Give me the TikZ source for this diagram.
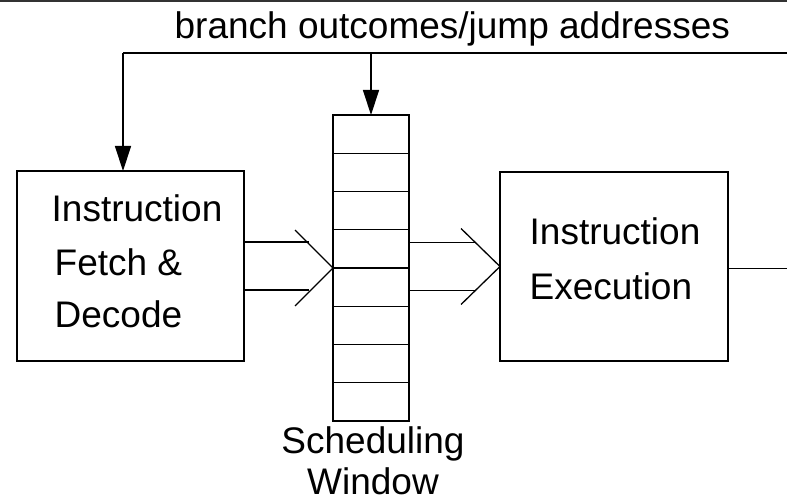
\documentclass[tikz,border=0pt]{standalone}
\usepackage{fontspec}
\setmainfont{Liberation Sans}
\usetikzlibrary{arrows.meta,calc}
\begin{document}
\begin{tikzpicture}[x=1pt,y=-1pt,line width=1.3pt,
  box/.style={draw,rectangle,inner sep=0pt,outer sep=0pt,anchor=north west},
  lbl/.style={inner sep=0pt,anchor=base west,font=\fontsize{37}{44}\selectfont},
  clbl/.style={inner sep=0pt,anchor=base,font=\fontsize{37}{44}\selectfont},
  head/.style={-{Triangle[length=25pt,width=16pt]}},
  chev/.style={line join=miter}]
\useasboundingbox (0,0) rectangle (787,497);

% rule along the top edge
\coordinate (rl) at (0,1);
\coordinate (rr) at (787,1);
\draw[line width=1.6pt,black!80] (rl) -- (rr);

% blocks
\node[box,minimum width=227pt,minimum height=190pt] (fetch) at (17,171) {};
\node[box,minimum width=76pt,minimum height=306pt] (win) at (333,115) {};
\node[box,minimum width=228pt,minimum height=189pt] (exec) at (500,172) {};

% slots of the scheduling window
\foreach \i in {1,...,7}
  \draw ($(win.north west)!\i/8!(win.south west)$) -- ($(win.north east)!\i/8!(win.south east)$);

% labels
\node[lbl] (title) at (174,39) {branch outcomes/jump addresses};
\node[lbl] (f1) at (51,222) {Instruction};
\node[lbl] (f2) at (54,275) {Fetch \&};
\node[lbl] (f3) at (54,327) {Decode};
\node[lbl] (e1) at (529,244) {Instruction};
\node[lbl] (e2) at (529,299) {Execution};
\node[clbl] (w1) at (373,453) {Scheduling};
\node[clbl] (w2) at (373,494) {Window};

% feedback path
\coordinate (fbR) at (787,53);
\coordinate (fbL) at (123,53);
\coordinate (fbM) at (371,53);
\draw (fbR) -- (fbL);
\draw[head] (fbL) -- (fbL |- fetch.north);
\draw[head] (fbM) -- (fbM |- win.north);

% wide arrow: fetch -> window
\draw[chev] ($(win.west)+(-38,-38)$) -- (win.west) -- ($(win.west)+(-38,38)$);
\draw ($(fetch.east)+(0,-24)$) -- ($(fetch.east -| win.west)+(-24,-24)$);
\draw ($(fetch.east)+(0,24)$) -- ($(fetch.east -| win.west)+(-24,24)$);

% wide arrow: window -> execution
\draw[chev] ($(exec.west)+(-39,-38)$) -- (exec.west) -- ($(exec.west)+(-39,38)$);
\draw ($(exec.west -| win.east)+(0,-24)$) -- ($(exec.west)+(-24,-24)$);
\draw ($(exec.west -| win.east)+(0,24)$) -- ($(exec.west)+(-24,24)$);

% output of execution
\draw ($(exec.east)+(0,2)$) -- ($(exec.east -| rr)+(0,2)$);
\end{tikzpicture}
\end{document}
